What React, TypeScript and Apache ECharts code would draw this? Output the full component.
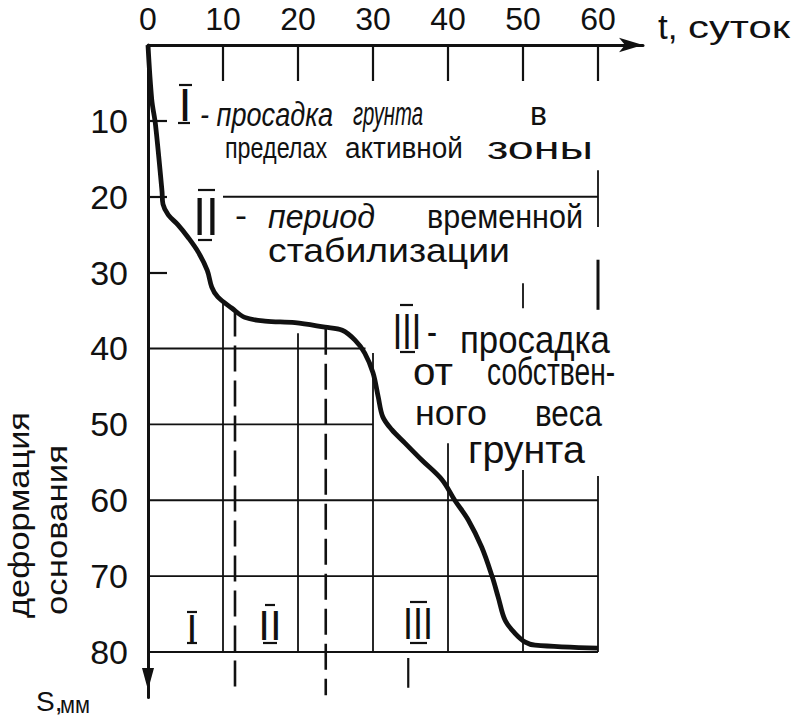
import React, { useEffect, useRef } from "react";
import * as echarts from "echarts";

// ---- data ----
const timeLabels = [0, 10, 20, 30, 40, 50, 60];
const timeTickMarks = [10, 20, 30, 40, 50, 60];
const depthLabels = [10, 20, 30, 40, 50, 60, 70, 80];
const depthTickMarks = [10, 20, 30];

// settlement curve S(t)
const curveT = [0, 0.5, 1.0, 1.87, 2.0, 2.7, 4.0, 5.3, 6.7, 7.9, 8.5, 9.3, 11.2, 12.9, 15.6, 19.6, 23.6, 25.9, 27.6, 28.9, 30.0, 30.7, 31.3, 32.5, 34.3, 36.5, 39.2, 40.9, 42.7, 44.5, 45.9, 46.7, 47.6, 48.9, 50.3, 51.6, 60];
const curveS = [0, 7.2, 10.5, 19.3, 21.0, 22.4, 23.7, 25.3, 27.3, 29.7, 31.9, 33.2, 34.7, 35.9, 36.4, 36.6, 37.2, 37.6, 38.9, 40.6, 43.2, 46.4, 49.0, 50.7, 52.5, 54.7, 57.3, 60.0, 62.6, 66.2, 70.1, 72.8, 75.8, 77.5, 78.7, 79.1, 79.5];

// horizontal grid segments: depth, from t, to t
const hGridS = [40, 50, 60, 70, 80, 20];
const hGridFrom = [0, 0, 0, 0, 0, 10];
const hGridTo = [29.0, 30, 60, 60, 60, 60];

// vertical grid segments: t, from S, to S
const vGridT = [10, 20, 30, 40, 50, 50, 60, 60, 60];
const vGridFrom = [34, 38, 40.6, 52.5, 56, 31.4, 16.5, 28.3, 56.8];
const vGridTo = [80, 80, 80, 80, 80, 34.7, 24, 34.9, 80];

// dashed period boundaries
const dashT = [11.6, 23.7];
const dashFrom = [35, 37.4];
const dashTo = [85.7, 85.7];

// extra short tick under the axis
const extraTickT = [34.7];
const extraTickFrom = [80.8];
const extraTickTo = [84.7];

const FONT = '"Liberation Sans Narrow", "Liberation Sans", "DejaVu Sans Condensed", sans-serif';
const INK = "#111";

let measureCtx: CanvasRenderingContext2D | null = null;
function measure(text: string, fs: number, italic: boolean) {
  if (!measureCtx) measureCtx = document.createElement("canvas").getContext("2d");
  if (!measureCtx) return text.length * fs * 0.45;
  measureCtx.font = `${italic ? "italic " : ""}${fs}px ${FONT}`;
  return measureCtx.measureText(text).width;
}

function word(text: string, x0: number, x1: number, xhCenter: number, fs: number, italic = false) {
  const w = measure(text, fs, italic);
  const target = x1 - x0;
  const sx = Math.min(1.6, Math.max(0.6, target / w));
  const x = (x0 + x1) / 2 - (w * sx) / 2;
  return {
    type: "text",
    x,
    y: xhCenter - 0.09 * fs,
    scaleX: sx,
    silent: true,
    style: {
      text,
      fontFamily: FONT,
      fontSize: fs,
      fontStyle: italic ? "italic" : "normal",
      fill: INK,
      align: "left",
      verticalAlign: "middle",
    },
  };
}

function numeral(text: string, cx: number, cy: number, fs: number, sx = 1) {
  return {
    type: "text",
    x: cx,
    y: cy,
    scaleX: sx,
    silent: true,
    style: { text, fontFamily: FONT, fontSize: fs, fill: INK, align: "center", verticalAlign: "middle" },
  };
}

function bar(x1: number, y1: number, x2: number, y2: number, w = 2.2) {
  return { type: "line", silent: true, shape: { x1, y1, x2, y2 }, style: { stroke: INK, lineWidth: w } };
}

function rotated(text: string, cx: number, cy: number, len: number, fs: number) {
  const w = measure(text, fs, false);
  return {
    type: "text",
    x: cx,
    y: cy,
    rotation: Math.PI / 2,
    scaleX: Math.min(1.9, Math.max(0.55, len / w)),
    silent: true,
    style: { text, fontFamily: FONT, fontSize: fs, fill: INK, align: "center", verticalAlign: "middle" },
  };
}

function segSeries(data: number[][], width: number, type: any = "solid") {
  return {
    type: "line",
    data,
    symbol: "none",
    silent: true,
    lineStyle: { color: INK, width, type },
    z: 2,
  };
}

export default function App() {
  const ref = useRef<HTMLDivElement>(null);
  useEffect(() => {
    document.body.style.margin = "0";
    if (!ref.current) return;
    const chart = echarts.init(ref.current, null, { renderer: "svg" });

    const series: any[] = [];
    hGridS.forEach((s, i) => series.push(segSeries([[hGridFrom[i], s], [hGridTo[i], s]], 1.8)));
    vGridT.forEach((t, i) => series.push(segSeries([[t, vGridFrom[i]], [t, vGridTo[i]]], i === 7 ? 3 : 1.8)));
    dashT.forEach((t, i) => series.push(segSeries([[t, dashFrom[i]], [t, dashTo[i]]], 2.6, [26, 9])));
    extraTickT.forEach((t, i) => series.push(segSeries([[t, extraTickFrom[i]], [t, extraTickTo[i]]], 2.2)));
    series.push({
      type: "line",
      data: curveT.map((t, i) => [t, curveS[i]]),
      symbol: "none",
      smooth: 0.35,
      silent: true,
      lineStyle: { color: INK, width: 4.8 },
      z: 5,
    });

    const graphic: any[] = [
      // arrow head of the depth axis
      { type: "polygon", silent: true, shape: { points: [[142, 668], [154, 668], [148, 690]] }, style: { fill: INK } },
      // roman numerals with bars
      numeral("I", 185, 104, 47),
      bar(179, 85, 192, 85), bar(178, 123, 190, 123),
      numeral("II", 206, 217, 54, 0.85),
      bar(198, 190, 215, 190), bar(198, 240, 212, 240),
      numeral("III", 407, 331, 50, 0.68),
      bar(400, 305, 413, 305), bar(400, 352, 415, 352),
      numeral("I", 192, 628, 39),
      bar(187, 612, 197, 612), bar(187, 643, 197, 643),
      numeral("II", 270, 625, 42),
      bar(265, 605, 275, 605), bar(263, 643, 277, 643),
      numeral("III", 418, 624, 45, 0.8),
      bar(410, 602, 427, 602), bar(410, 643, 427, 643),
      // annotation texts
      word("- просадка", 200, 333, 117, 33, true),
      word("грунта", 353, 423, 117, 33, true),
      word("в", 530, 547, 117, 33),
      word("пределах", 225, 327, 150.5, 30),
      word("активной", 345, 463, 150.5, 30),
      word("зоны", 487, 593, 150.5, 32),
      word("-", 235, 247, 219, 33),
      word("период", 268, 375, 219.5, 34, true),
      word("временной", 427, 583, 219.5, 34),
      word("стабилизации", 268, 510, 253.5, 34),
      word("-", 427, 437, 335, 38),
      word("просадка", 460, 610, 343, 38),
      word("от", 413, 453, 375, 38),
      word("собствен-", 487, 615, 375, 38),
      word("ного", 415, 487, 416, 36),
      word("веса", 535, 602, 416, 36),
      word("грунта", 468, 585, 453, 38),
      // axis names
      {
        type: "text", x: 658, y: 26, silent: true,
        style: { text: "t,", fontFamily: FONT, fontSize: 35, fill: INK, align: "left", verticalAlign: "middle" },
      },
      word("суток", 688, 790, 30, 31),
      {
        type: "text", x: 36, y: 701, silent: true,
        style: { text: "S,", fontFamily: FONT, fontSize: 28, fill: INK, align: "left", verticalAlign: "middle" },
      },
      word("мм", 60, 90, 707, 24),
      rotated("деформация", 19, 515, 206, 29),
      rotated("основания", 57, 530, 170, 29),
    ];

    chart.setOption({
      animation: false,
      backgroundColor: "#fff",
      grid: { left: 148, top: 45, width: 495, height: 652.5, containLabel: false, outerBoundsMode: "none" },
      xAxis: {
        type: "value",
        position: "top",
        min: 0,
        max: 66,
        interval: 10,
        axisLine: {
          show: true,
          onZero: false,
          symbol: ["none", "arrow"],
          symbolSize: [11, 24],
          lineStyle: { color: INK, width: 3 },
        },
        axisTick: { show: true, inside: true, length: 36, customValues: timeTickMarks, lineStyle: { color: INK, width: 2.2 } },
        axisLabel: { customValues: timeLabels, fontFamily: FONT, fontSize: 32, color: INK, margin: 10 },
        splitLine: { show: false },
      },
      yAxis: {
        type: "value",
        inverse: true,
        min: 0,
        max: 86,
        interval: 10,
        axisLine: {
          show: true,
          onZero: false,
          lineStyle: { color: INK, width: 3 },
        },
        axisTick: { show: true, inside: true, length: 19, customValues: depthTickMarks, lineStyle: { color: INK, width: 2.2 } },
        axisLabel: { customValues: depthLabels, fontFamily: FONT, fontSize: 34, color: INK, margin: 20, padding: [16, 0, 0, 0] },
        splitLine: { show: false },
      },
      series,
      graphic,
    });
    return () => chart.dispose();
  }, []);
  return <div ref={ref} style={{ width: 794, height: 719 }} />;
}
